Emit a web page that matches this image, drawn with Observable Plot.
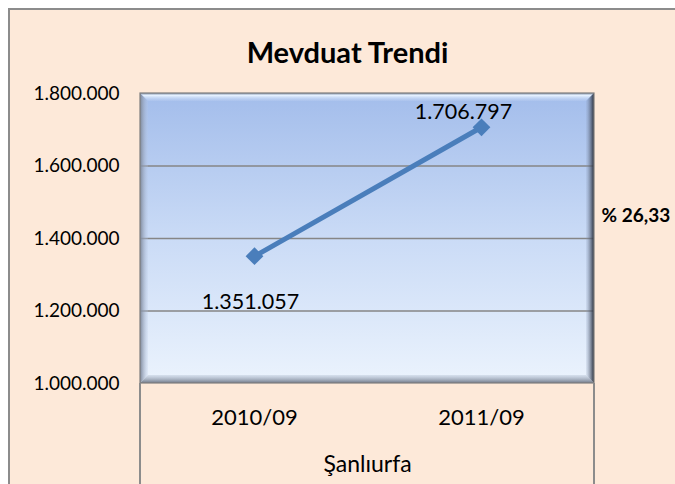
<!DOCTYPE html>
<html><head><meta charset="utf-8">
<script src="https://cdn.jsdelivr.net/npm/d3@7"></script>
<script src="https://cdn.jsdelivr.net/npm/@observablehq/plot@0.6"></script>
<style>
html,body{margin:0;padding:0;background:#fff;overflow:hidden;}
#wrap{position:relative;width:675px;height:484px;overflow:hidden;}
#frame{position:absolute;left:8px;top:8px;width:700px;height:500px;background:#FDE9D9;border:2px solid #8c8c8c;}
#chart{position:absolute;left:0;top:0;}
</style></head><body>
<div id="wrap"><div id="frame"></div><div id="chart"></div></div>
<script>
const title = "Mevduat Trendi";
const periods = ["2010/09", "2011/09"];
const deposits = [1351057, 1706797];
const yTicks = [1000000, 1200000, 1400000, 1600000, 1800000];
const gridValues = [1200000, 1400000, 1600000];
const xTitle = "Şanlıurfa";
const growthLabel = "% 26,33";

const data = periods.map((p, i) => ({period: p, value: deposits[i]}));
const trFmt = d3.formatLocale({decimal: ",", thousands: ".", grouping: [3], currency: ["", ""]}).format(",");

function plotBackground(index, scales, values, dim) {
  const x0 = dim.marginLeft, x1 = dim.width - dim.marginRight;
  const y0 = dim.marginTop, y1 = dim.height - dim.marginBottom;
  const g = d3.create("svg:g");
  const defs = g.append("defs");
  const lg = defs.append("linearGradient").attr("id", "bgGrad").attr("x1", 0).attr("y1", 0).attr("x2", 0).attr("y2", 1);
  lg.append("stop").attr("offset", "0%").attr("stop-color", "#A3BDEB");
  lg.append("stop").attr("offset", "50%").attr("stop-color", "#CADBF6");
  lg.append("stop").attr("offset", "100%").attr("stop-color", "#EBF3FD");
  g.append("rect").attr("x", x0).attr("y", y0).attr("width", x1 - x0).attr("height", y1 - y0).attr("fill", "url(#bgGrad)");
  return g.node();
}

function plotBevel(index, scales, values, dim) {
  const x0 = dim.marginLeft, x1 = dim.width - dim.marginRight;
  const y0 = dim.marginTop, y1 = dim.height - dim.marginBottom;
  const b = 8;
  const g = d3.create("svg:g");
  const defs = g.append("defs");
  const rg = defs.append("linearGradient").attr("id", "bevR").attr("x1", 0).attr("y1", 0).attr("x2", 1).attr("y2", 0);
  rg.append("stop").attr("offset", "0%").attr("stop-color", "#8a9ab8").attr("stop-opacity", 0.15);
  rg.append("stop").attr("offset", "100%").attr("stop-color", "#262c38");
  const bg = defs.append("linearGradient").attr("id", "bevB").attr("x1", 0).attr("y1", 0).attr("x2", 0).attr("y2", 1);
  bg.append("stop").attr("offset", "0%").attr("stop-color", "#b8c4d6").attr("stop-opacity", 0.4);
  bg.append("stop").attr("offset", "100%").attr("stop-color", "#6f7888");
  const tg = defs.append("linearGradient").attr("id", "bevT").attr("x1", 0).attr("y1", 0).attr("x2", 0).attr("y2", 1);
  tg.append("stop").attr("offset", "0%").attr("stop-color", "#7f8fa8");
  tg.append("stop").attr("offset", "30%").attr("stop-color", "#e6f1ff");
  tg.append("stop").attr("offset", "100%").attr("stop-color", "#c4d6f4").attr("stop-opacity", 0.2);
  const lg = defs.append("linearGradient").attr("id", "bevL").attr("x1", 0).attr("y1", 0).attr("x2", 1).attr("y2", 0);
  lg.append("stop").attr("offset", "0%").attr("stop-color", "#7d8799");
  lg.append("stop").attr("offset", "100%").attr("stop-color", "#b8c8e4").attr("stop-opacity", 0.2);
  g.append("path").attr("d", `M${x0},${y0}L${x0 + b},${y0 + b}L${x0 + b},${y1 - b}L${x0},${y1}Z`).attr("fill", "url(#bevL)");
  g.append("path").attr("d", `M${x0},${y0}L${x1},${y0}L${x1 - b},${y0 + b}L${x0 + b},${y0 + b}Z`).attr("fill", "url(#bevT)");
  g.append("path").attr("d", `M${x0},${y1}L${x0 + b},${y1 - b}L${x1 - b},${y1 - b}L${x1},${y1}Z`).attr("fill", "url(#bevB)");
  g.append("path").attr("d", `M${x1},${y0}L${x1 - b},${y0 + b}L${x1 - b},${y1 - b}L${x1},${y1}Z`).attr("fill", "url(#bevR)");
  g.append("rect").attr("x", x0).attr("y", y0).attr("width", x1 - x0).attr("height", y1 - y0)
    .attr("fill", "none").attr("stroke", "#7f7f7f").attr("stroke-width", 1.2);
  g.append("line").attr("x1", x0).attr("x2", x0).attr("y1", y1).attr("y2", dim.height).attr("stroke", "#8c8c8c").attr("stroke-width", 2);
  g.append("line").attr("x1", x1).attr("x2", x1).attr("y1", y1).attr("y2", dim.height).attr("stroke", "#8c8c8c").attr("stroke-width", 2);
  return g.node();
}

const chart = Plot.plot({
  width: 675,
  height: 484,
  marginLeft: 140,
  marginRight: 81,
  marginTop: 93,
  marginBottom: 101,
  style: {fontFamily: "Lato, 'Open Sans', sans-serif", background: "transparent", color: "#000", overflow: "visible"},
  x: {type: "point", domain: periods, padding: 0.5, label: null},
  y: {domain: [1000000, 1800000], label: null},
  marks: [
    plotBackground,
    Plot.ruleY(gridValues, {stroke: "#868686", strokeWidth: 1.5, strokeOpacity: 1}),
    plotBevel,
    Plot.axisY(yTicks, {tickSize: 0, tickPadding: 21, fontSize: 19, tickFormat: trFmt, label: null}),
    Plot.axisX(periods, {tickSize: 0, tickPadding: 26, fontSize: 22, label: null}),
    Plot.line(data, {x: "period", y: "value", stroke: "#4A7EBB", strokeWidth: 5}),
    Plot.dot(data, {x: "period", y: "value", symbol: "diamond2", r: 8, fill: "#4A7EBB", stroke: "none"}),
    Plot.text(data.slice(0, 1), {x: "period", y: "value", text: d => trFmt(d.value), fontSize: 21.5, dx: -4, dy: 46}),
    Plot.text(data.slice(1, 2), {x: "period", y: "value", text: d => trFmt(d.value), fontSize: 21.5, dx: -18, dy: -15}),
    Plot.text([title], {frameAnchor: "top", text: d => d, fontSize: 29, fontWeight: "bold", dx: -20, dy: -51}),
    Plot.text([growthLabel], {frameAnchor: "right", text: d => d, fontSize: 19, fontWeight: "bold", textAnchor: "start", dx: 7, dy: -23}),
    Plot.text([xTitle], {frameAnchor: "bottom", text: d => d, fontSize: 23, dy: 88})
  ]
});
document.getElementById("chart").appendChild(chart);
</script>
</body></html>
